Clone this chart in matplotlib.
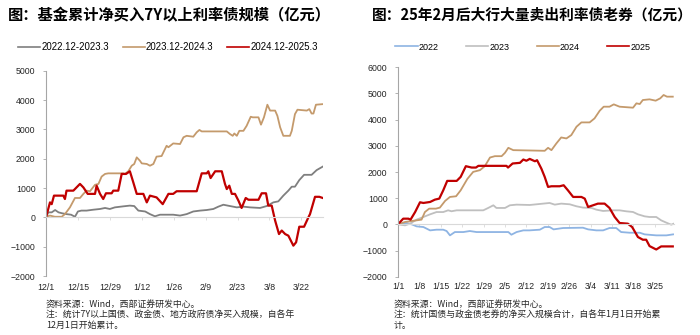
import numpy as np
import matplotlib
matplotlib.use('Agg')
import matplotlib.pyplot as plt

plt.rcParams['font.family'] = ['Liberation Sans', 'Noto Sans CJK SC', 'DejaVu Sans']
CJK = ['Noto Sans CJK SC', 'DejaVu Sans']

# ---- left chart: fund net buying of 7Y+ rate bonds, day index from 12/1 ----
left_ticks = [0, 14, 28, 42, 56, 70, 84, 98, 112]
left_tick_labels = ['12/1', '12/15', '12/29', '1/12', '1/26', '2/9', '2/23', '3/8', '3/22']

g22_day = [0, 1, 2.5, 4, 5.5, 7, 9, 11, 12.7, 14, 15.5, 17.8, 20.7, 23.7, 25.9, 28, 30.2, 33.9,
           36.8, 38.7, 40.5, 43.5, 45.6, 47.8, 50, 55.8, 58.8, 61.7, 64.6, 67.6, 70.5, 73.4, 75.6,
           77.8, 80.7, 83.7, 86.6, 89.5, 93.9, 96.8, 99.7, 101.9, 104.1, 106.3, 107.8, 109.2,
           111.1, 113.2, 116.5, 118.7, 121.4]
g22_val = [0, 170, 170, 250, 170, 140, 110, 90, 20, 200, 230, 230, 260, 285, 320, 285, 340, 375,
           400, 385, 230, 200, 110, 35, 90, 90, 60, 110, 200, 230, 250, 285, 365,
           430, 385, 340, 365, 340, 320, 385, 510, 545, 740, 910, 1045, 1045,
           1270, 1450, 1450, 1610, 1730]

t23_day = [0, 1.75, 3.9, 6.9, 8.3, 10.5, 12.7, 14.9, 16.4, 17.8, 19.3, 21.5, 23, 24.4, 25.9, 27.3,
           33.9, 34.6, 36.1, 37.6, 38.7, 39.8, 41.2, 42, 44.2, 45.6, 47.1, 48.5, 50.7, 52.9, 53.7,
           55.8, 58.8, 60.3, 61.7, 64.6, 66.1, 67.3, 68.3, 79.3, 80.7, 81.9, 82.6, 83.7, 84.8, 86.6,
           88, 89.8, 90.7, 93.2, 94.3, 95.6, 97.1, 98.3, 100.5, 101.5, 102.7, 104.1, 107, 107.8,
           109.2, 110.3, 114.4, 115.5, 116.5, 117.3, 118.4, 121.4]
t23_val = [20, 60, 20, 20, 110, 340, 660, 660, 800, 910, 890, 1110, 1140, 1390, 1480, 1500,
           1500, 1480, 1570, 1760, 1820, 2045, 1930, 1840, 1820, 1760, 1820, 2070, 2090, 2440, 2390,
           2520, 2500, 2730, 2780, 2750, 2900, 2980, 2930, 2930, 2840, 2780, 2860, 2780, 2950, 2950,
           3120, 3430, 3410, 3410, 3160, 3410, 3840, 3640, 3640, 3460, 3070, 2780, 2780, 2950,
           3520, 3670, 3640, 3690, 3540, 3540, 3840, 3860]

r24_day = [0, 1.75, 2.5, 3.5, 7.6, 8.3, 9, 12, 12.7, 14.9, 16.4, 18.3, 21.5, 22.2, 23.7, 25.1, 26.3,
           28.8, 29.5, 31.7, 33.2, 35.1, 36.8, 38.3, 39.8, 42.7, 44.2, 45.6, 48.5, 51.2, 53.7, 55.8,
           57.3, 66.1, 68.3, 70.5, 71.2, 72.2, 74.2, 77.1, 78.5, 79.3, 80.4, 81.5, 82.9, 84.4, 85.8,
           87.6, 88.8, 93.2, 94.6, 96.5, 97.5, 99, 100.5, 102.2, 103.4, 104.9, 106.3, 108.5, 109.7,
           111.1, 113.2, 115.1, 115.8, 118, 119.9, 121.4]
r24_val = [0, 510, 450, 740, 740, 625, 910, 910, 965, 1140, 1020, 800, 800, 1080, 800, 625, 820,
           820, 910, 910, 1480, 1480, 1570, 1190, 800, 800, 510, 740, 680, 450, 800, 800,
           890, 890, 1500, 1500, 1570, 1340, 1570, 1570, 1140, 965, 1080, 800, 800, 570, 320,
           660, 600, 600, 820, 820, 400, 400, -110, -570, -450, -570, -625, -965, -850,
           -320, -320, 0, 110, 700, 700, 660]

# ---- right chart: big banks' old-bond net buying, day index from 1/1 ----
right_ticks = [0, 7, 14, 21, 28, 35, 42, 49, 56, 63, 70, 77, 84]
right_tick_labels = ['1/1', '1/8', '1/15', '1/22', '1/29', '2/5', '2/12', '2/19', '2/26',
                     '3/4', '3/11', '3/18', '3/25']

b22_day = [0, 2.8, 4.5, 6.1, 8.3, 10.5, 12.6, 14.8, 15.9, 17, 18.6, 21.4, 23.5, 25.7, 36.1, 37.1,
           38.8, 41, 43, 46.4, 48, 49.6, 50.9, 54, 60.5, 62.2, 64.9, 67.1, 69.2, 71.4, 73, 75.8,
           79.1, 80.7, 84.5, 87.8, 90]
b22_val = [0, 51, 0, -77, -102, -230, -204, -204, -255, -421, -294, -294, -255, -294, -294, -396,
           -294, -230, -230, -204, -102, -102, -192, -140, -128, -192, -230, -230, -140, -140, -294, -320,
           -320, -383, -421, -421, -383]

g23_day = [0, 2.3, 3.9, 6.1, 8.3, 10.5, 12.6, 14.8, 16.4, 17.5, 19.2, 27.9, 29.5, 31.2, 32.2, 35,
           36.6, 38.8, 43.1, 45.3, 47.5, 49.6, 51.3, 53.4, 56.2, 58.4, 60.5, 63.3, 64.9, 67.1, 70.3,
           72.5, 74.7, 76.9, 78.5, 80.7, 82.3, 84.5, 86.1, 87.8, 89.4, 90.2]
g23_val = [0, -38, 25, 180, 281, 383, 470, 470, 536, 500, 536, 536, 626, 728, 626, 626,
           728, 753, 740, 766, 792, 817, 753, 792, 766, 690, 640, 626, 562, 511, 536,
           536, 498, 472, 383, 306, 281, 281, 153, 64, -13, 25]

t24_day = [0, 2.3, 4.5, 6.1, 7.7, 8.8, 10.2, 12.4, 13.7, 15.4, 17, 19, 20.5, 22.7, 24.6, 26.8, 28.4,
           30.1, 31.7, 33.9, 35, 36.1, 37.7, 44, 48, 49.1, 50.2, 51.8, 53.4, 55.1, 56.7, 58.4, 60,
           62.7, 64.3, 66, 67.3, 69.2, 70.6, 72.5, 76.9, 78, 79.1, 80.1, 82.3, 84.3, 85.8, 86.9, 88, 89.9]
t24_val = [0, 90, 128, 153, 180, 470, 600, 600, 640, 894, 1047, 1073, 1300, 1737, 2005, 2070, 2222,
           2554, 2605, 2605, 2733, 2924, 2835, 2820, 2810, 2924, 2835, 3090, 3320, 3282, 3410, 3730, 3895,
           3895, 4048, 4342, 4495, 4495, 4584, 4495, 4457, 4623, 4597, 4750, 4776, 4725, 4814, 4942, 4878, 4878]

r25_day = [0, 1.7, 3.4, 4.1, 5.6, 7.2, 8.3, 10.5, 12.1, 13.5, 14.8, 16.1, 19.2, 20.5, 22.2, 24.1,
           25.5, 26.3, 35.5, 36, 37.5, 39.9, 41, 42, 43.1, 44.8, 45.5, 46.9, 48, 49.1, 50.2, 52.9,
           54.2, 55.6, 57.3, 60, 61.1, 62.2, 63.8, 65.4, 67.6, 69.2, 70.9, 72.5, 75.2, 76.6, 78.5,
           80.1, 81.2, 82.3, 84, 84.5, 86.1, 89.9]
r25_val = [0, 217, 217, 180, 470, 843, 817, 855, 945, 983, 1300, 1660, 1660, 1813, 2222, 2170,
           2170, 2235, 2235, 2170, 2325, 2350, 2477, 2430, 2500, 2410, 2450, 2130, 1813, 1430, 1455, 1455,
           1494, 1300, 1047, 1047, 983, 664, 728, 792, 792, 626, 281, 51, 26, -102, -485,
           -587, -587, -830, -932, -960, -843, -843]

RED = '#c00000'
TAN = '#c49a6c'


def style_axes(ax, ticks, labels, xmax, ylim, ystep, xpad):
    ax.set_xlim(0, xmax)
    ax.set_ylim(*ylim)
    ax.set_yticks(np.arange(ylim[0], ylim[1] + 1, ystep))
    for s in ['top', 'right']:
        ax.spines[s].set_visible(False)
    ax.spines['left'].set_color('#a6a6a6')
    ax.spines['left'].set_linewidth(0.8)
    ax.spines['bottom'].set_position(('data', 0))
    ax.spines['bottom'].set_color('#d9d9d9')
    ax.spines['bottom'].set_linewidth(0.8)
    ax.set_xticks(ticks)
    ax.tick_params(axis='x', length=2, width=0.6, color='#d9d9d9', labelbottom=False)
    ax.tick_params(axis='y', length=2.5, width=0.6, color='#a6a6a6', labelsize=6.3,
                   labelcolor='#262626', pad=5)
    # date labels sit under the plot, not on the zero line
    sec = ax.secondary_xaxis('bottom')
    sec.set_xticks(ticks, labels)
    sec.spines['bottom'].set_visible(False)
    sec.tick_params(length=0, pad=xpad, labelsize=6.3, labelcolor='#262626')


fig = plt.figure(figsize=(7, 3.35), dpi=100)

# left chart
ax1 = fig.add_axes([46 / 700, 1 - 276 / 335, 277 / 700, 205.3 / 335])
ax1.plot(g22_day, g22_val, color='#7f7f7f', lw=1.3, label='2022.12-2023.3')
ax1.plot(t23_day, t23_val, color=TAN, lw=1.3, label='2023.12-2024.3')
ax1.plot(r24_day, r24_val, color=RED, lw=1.6, label='2024.12-2025.3')
style_axes(ax1, left_ticks, left_tick_labels, 121.5, (-2000, 5000), 1000, 5)
leg1 = ax1.legend(loc='center', bbox_to_anchor=(168 / 700, 1 - 47 / 335),
                  bbox_transform=fig.transFigure, ncol=3, frameon=False, fontsize=6.9,
                  handlelength=2.3, handletextpad=0.15, columnspacing=1.4, borderpad=0)

# right chart
ax2 = fig.add_axes([398 / 700, 1 - 276.7 / 335, 276 / 700, 209.4 / 335])
ax2.plot(b22_day, b22_val, color='#8eb4e3', lw=1.3, label='2022')
ax2.plot(g23_day, g23_val, color='#bfbfbf', lw=1.3, label='2023')
ax2.plot(t24_day, t24_val, color=TAN, lw=1.3, label='2024')
ax2.plot(r25_day, r25_val, color=RED, lw=1.6, label='2025')
style_axes(ax2, right_ticks, right_tick_labels, 90.3, (-2000, 6000), 1000, 3.5)
leg2 = ax2.legend(loc='center', bbox_to_anchor=(523 / 700, 1 - 47 / 335),
                  bbox_transform=fig.transFigure, ncol=4, frameon=False, fontsize=6.5,
                  handlelength=2.45, handletextpad=0.15, columnspacing=3.0, borderpad=0)
for leg in (leg1, leg2):
    for ln in leg.get_lines():
        ln.set_linewidth(1.2)

# titles
fig.text(8 / 700, 1 - 15 / 335, '图：基金累计净买入7Y以上利率债规模（亿元）', fontsize=11,
         fontweight='bold', va='center', ha='left', family=CJK)
fig.text(372 / 700, 1 - 15 / 335, '图：25年2月后大行大量卖出利率债老券（亿元）', fontsize=10.6,
         fontweight='bold', va='center', ha='left', family=CJK)

# source notes
left_notes = ['资料来源：Wind，西部证券研发中心。',
              '注：统计7Y以上国债、政金债、地方政府债净买入规模，自各年',
              '12月1日开始累计。']
right_notes = ['资料来源：Wind，西部证券研发中心。',
               '注：统计国债与政金债老券的净买入规模合计，自各年1月1日开始累',
               '计。']
for i, line in enumerate(left_notes):
    fig.text(46 / 700, 1 - (305 + 10.3 * i) / 335, line, fontsize=6.4, va='center',
             ha='left', family=CJK, color='#262626')
for i, line in enumerate(right_notes):
    fig.text(394 / 700, 1 - (305 + 10.3 * i) / 335, line, fontsize=6.4, va='center',
             ha='left', family=CJK, color='#262626')

fig.savefig('out.png', dpi=100)
